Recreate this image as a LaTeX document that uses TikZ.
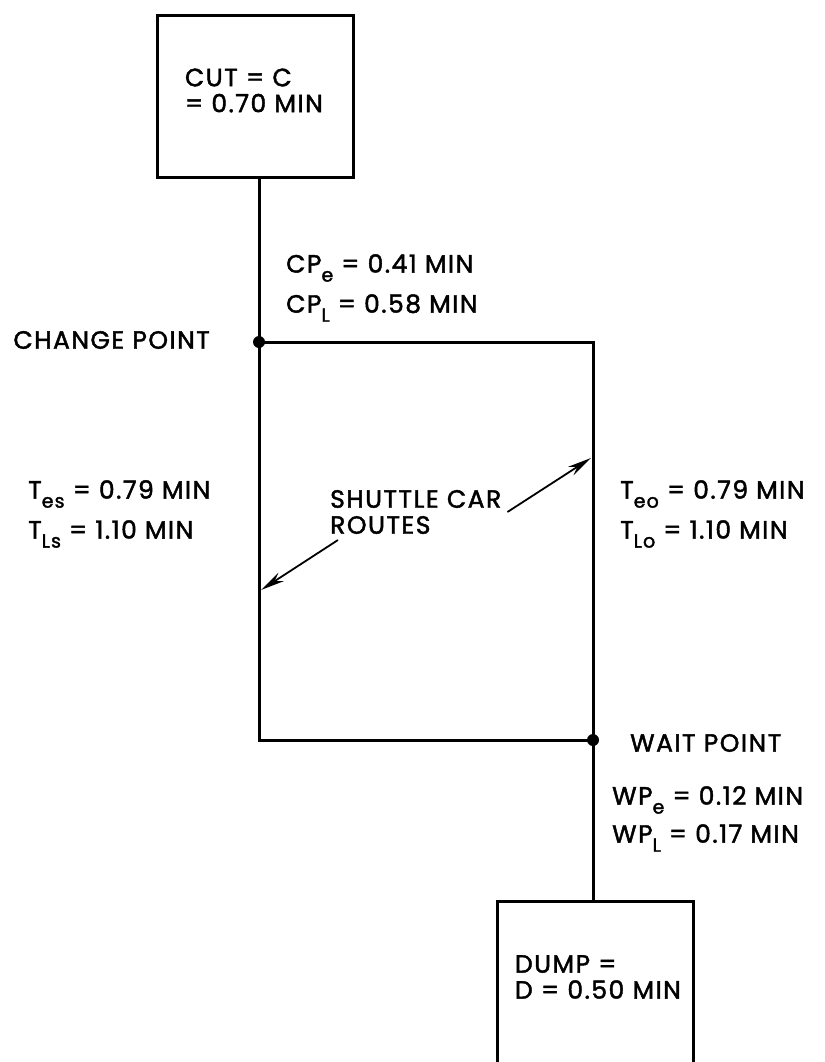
\documentclass[tikz,border=0pt]{standalone}
\usepackage{fontspec}
\setmainfont{Poppins}[FakeBold=1.8,LetterSpace=6]
\usetikzlibrary{arrows.meta}
\newcommand{\sub}[1]{\raisebox{-9pt}{\fontsize{19}{19}\selectfont #1}}
\begin{document}
\begin{tikzpicture}[x=1pt,y=-1pt,
  box/.style={draw,line width=3pt,minimum width=196pt,minimum height=162pt,inner xsep=28pt,inner ysep=0pt,text width=140pt,align=left,font=\fontsize{25}{26}\selectfont},
  lbl/.style={anchor=west,inner sep=0pt,font=\fontsize{25}{26}\selectfont},
  route/.style={line width=3pt},
  pointer/.style={line width=1.8pt,-{Stealth[length=24pt,width=10pt]}},
  dot/.style={circle,fill,inner sep=0pt,minimum size=12pt}]
\useasboundingbox (0,0) rectangle (824,1062);
% boxes
\node[box] (cut) at (255,96.5) {\mbox{CUT = C}\\\mbox{= 0.70 MIN}\vspace{12pt}};
\node[box,inner xsep=18pt,text width=160pt] (dump) at (595,982) {\mbox{DUMP =}\\\mbox{D = 0.50 MIN}\vspace{10pt}};
% points
\node[dot] (cp) at (259,342) {};
\node[dot] (wp) at (593,740) {};
\coordinate (ne) at (593,342);
\coordinate (sw) at (259,740);
% routes
\draw[route] (cut.south -| cp) -- (cp.center);
\draw[route] (cp.center) -- (ne) -- (wp.center) -- (sw) -- cycle;
\draw[route] (wp.center) -- (dump.north -| wp);
% labels
\node[lbl] (cpe) at (286,268) {CP\sub{e} = 0.41 MIN};
\node[lbl] (cpl) at (286,308) {CP\sub{L} = 0.58 MIN};
\node[lbl,anchor=east] (chg) at (210,340) {CHANGE POINT};
\node[lbl] (tes) at (28,494) {T\sub{es} = 0.79 MIN};
\node[lbl] (tls) at (28,534) {T\sub{Ls} = 1.10 MIN};
\node[lbl] (teo) at (620,494) {T\sub{eo} = 0.79 MIN};
\node[lbl] (tlo) at (620,534) {T\sub{Lo} = 1.10 MIN};
\node[lbl,align=left] (scr) at (330,512) {SHUTTLE CAR\\ROUTES};
\node[lbl] (wpt) at (630,743) {WAIT POINT};
\node[lbl] (wpe) at (612,800) {WP\sub{e} = 0.12 MIN};
\node[lbl] (wpl) at (612,838) {WP\sub{L} = 0.17 MIN};
% pointers
\coordinate (tipA) at (591,458);
\coordinate (tipB) at (261,590);
\draw[pointer] (scr.east |- 0,512) ++(6,0) -- (tipA);
\draw[pointer] (338,540) -- (tipB);
\end{tikzpicture}
\end{document}
